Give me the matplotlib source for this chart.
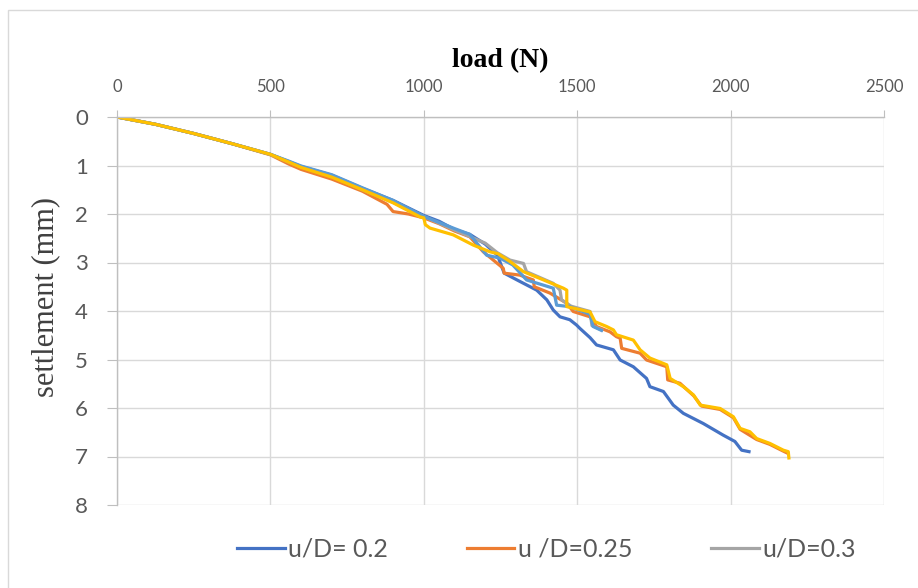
import matplotlib.pyplot as plt
from matplotlib.patches import Rectangle

# load (N) vs settlement (mm)
load_02 = [0, 125, 250, 375, 500, 560, 600, 700, 800, 900, 1000, 1050, 1100, 1150, 1200,
           1240, 1262, 1313, 1368, 1401, 1422, 1444, 1476, 1498, 1509, 1542, 1563, 1596,
           1618, 1640, 1683, 1726, 1737, 1781, 1813, 1846, 1911, 1976, 2014, 2036, 2060]
settle_02 = [0, 0.15, 0.34, 0.55, 0.77, 0.92, 1.02, 1.20, 1.47, 1.72, 2.03, 2.15, 2.32, 2.42, 2.62,
             2.85, 3.22, 3.39, 3.57, 3.77, 3.98, 4.12, 4.18, 4.29, 4.36, 4.55, 4.70, 4.76,
             4.80, 5.01, 5.15, 5.39, 5.56, 5.66, 5.94, 6.11, 6.32, 6.56, 6.69, 6.87, 6.90]

load_025 = [0, 125, 250, 375, 500, 560, 600, 700, 800, 880, 900, 950, 1000, 1050, 1100, 1150,
            1194, 1259, 1262, 1313, 1357, 1360, 1411, 1466, 1487, 1542, 1563, 1607, 1628, 1640,
            1645, 1705, 1726, 1792, 1795, 1835, 1880, 1905, 1966, 2009, 2031, 2085, 2128, 2172, 2185]
settle_025 = [0, 0.15, 0.34, 0.55, 0.78, 0.97, 1.08, 1.28, 1.53, 1.80, 1.95, 2.00, 2.08, 2.20, 2.35, 2.47,
              2.78, 3.12, 3.22, 3.26, 3.36, 3.50, 3.63, 3.84, 4.01, 4.12, 4.32, 4.43, 4.53, 4.56,
              4.77, 4.87, 5.01, 5.15, 5.42, 5.49, 5.75, 5.96, 6.03, 6.20, 6.44, 6.65, 6.75, 6.89, 6.93]

load_03 = [0, 125, 250, 375, 500, 560, 600, 700, 800, 900, 1000, 1100, 1200, 1240, 1281, 1325,
           1335, 1422, 1444, 1449, 1480, 1542, 1548, 1580]
settle_03 = [0, 0.15, 0.34, 0.55, 0.77, 0.93, 1.03, 1.22, 1.50, 1.76, 2.05, 2.33, 2.60, 2.80, 2.95, 3.02,
             3.19, 3.43, 3.57, 3.77, 3.90, 4.01, 4.30, 4.39]

# the two extra series have no visible legend entry (legend is cut off at the right)
load_lb = [0, 125, 250, 375, 500, 560, 600, 700, 800, 900, 1000, 1100, 1150, 1205, 1248, 1290,
           1335, 1422, 1433, 1476, 1542, 1552, 1579]
settle_lb = [0, 0.15, 0.34, 0.55, 0.77, 0.91, 1.01, 1.19, 1.46, 1.72, 2.05, 2.30, 2.42, 2.85, 2.91, 3.05,
             3.36, 3.53, 3.88, 3.91, 4.07, 4.32, 4.40]

load_y = [0, 125, 250, 375, 500, 560, 600, 700, 800, 900, 988, 1000, 1005, 1020, 1096, 1161, 1216,
          1242, 1281, 1325, 1379, 1455, 1466, 1466, 1487, 1542, 1558, 1596, 1618, 1628, 1683, 1705,
          1737, 1792, 1803, 1846, 1879, 1901, 1966, 2009, 2031, 2063, 2085, 2128, 2172, 2188, 2190]
settle_y = [0, 0.15, 0.34, 0.55, 0.77, 0.93, 1.04, 1.24, 1.50, 1.77, 2.06, 2.08, 2.22, 2.29, 2.43, 2.64, 2.78,
            2.82, 2.98, 3.19, 3.33, 3.53, 3.57, 3.91, 3.94, 4.02, 4.22, 4.32, 4.39, 4.49, 4.60, 4.80,
            4.97, 5.11, 5.39, 5.56, 5.73, 5.94, 6.01, 6.18, 6.42, 6.49, 6.63, 6.73, 6.87, 6.90, 7.03]

xticks = [0, 500, 1000, 1500, 2000, 2500]
yticks = [0, 1, 2, 3, 4, 5, 6, 7, 8]

fig = plt.figure(figsize=(9.18, 5.88), dpi=100)
ax = fig.add_axes([117/918, 1 - 505/588, (884 - 117)/918, (505 - 117)/588])

lw = 2.3
l1, = ax.plot(load_02, settle_02, color='#4472C4', lw=lw, solid_joinstyle='round', label='u/D= 0.2')
l2, = ax.plot(load_025, settle_025, color='#ED7D31', lw=lw, solid_joinstyle='round', label='u /D=0.25')
l3, = ax.plot(load_03, settle_03, color='#A5A5A5', lw=lw, solid_joinstyle='round', label='u/D=0.3')
ax.plot(load_lb, settle_lb, color='#5B9BD5', lw=lw, solid_joinstyle='round')
ax.plot(load_y, settle_y, color='#FFC000', lw=lw, solid_joinstyle='round')

ax.set_xlim(0, 2500)
ax.set_ylim(8, 0)
ax.xaxis.tick_top()
ax.set_xticks(xticks)
ax.set_yticks(yticks)
ax.tick_params(axis='x', labelsize=12, labelcolor='#595959', color='#BFBFBF', length=5, pad=11)
ax.tick_params(axis='y', labelsize=16, labelcolor='#595959', color='#BFBFBF', length=7, pad=14)
for lab in ax.get_xticklabels() + ax.get_yticklabels():
    lab.set_family('Lato')

ax.grid(True, color='#D9D9D9', lw=1)
ax.set_axisbelow(True)
for s in ['right', 'bottom']:
    ax.spines[s].set_visible(False)
for s in ['left', 'top']:
    ax.spines[s].set_color('#BFBFBF')
    ax.spines[s].set_linewidth(1)

fig.text(500/918, 1 - 67/588, 'load (N)', family='Liberation Serif', fontweight='bold',
         fontsize=20, ha='center', va='baseline')
ax.set_ylabel('settlement (mm)', family='Liberation Serif', fontsize=22, color='#404040')
ax.yaxis.set_label_coords(-0.074, 0.536)

fig.legend(handles=[l1, l2, l3], loc='center left', bbox_to_anchor=(237/918, 1 - 549/588),
           ncol=3, frameon=False, prop={'family': 'Lato', 'size': 18}, labelcolor='#595959',
           handlelength=1.9, handletextpad=0.15, columnspacing=3.15, borderpad=0, borderaxespad=0)

# outer chart frame (cut off on the right and bottom)
fig.add_artist(Rectangle((8/918, -0.2), 1.5, 1.2 - 10/588, transform=fig.transFigure,
                         fill=False, edgecolor='#D9D9D9', lw=1))

fig.savefig('out.png', dpi=100)
